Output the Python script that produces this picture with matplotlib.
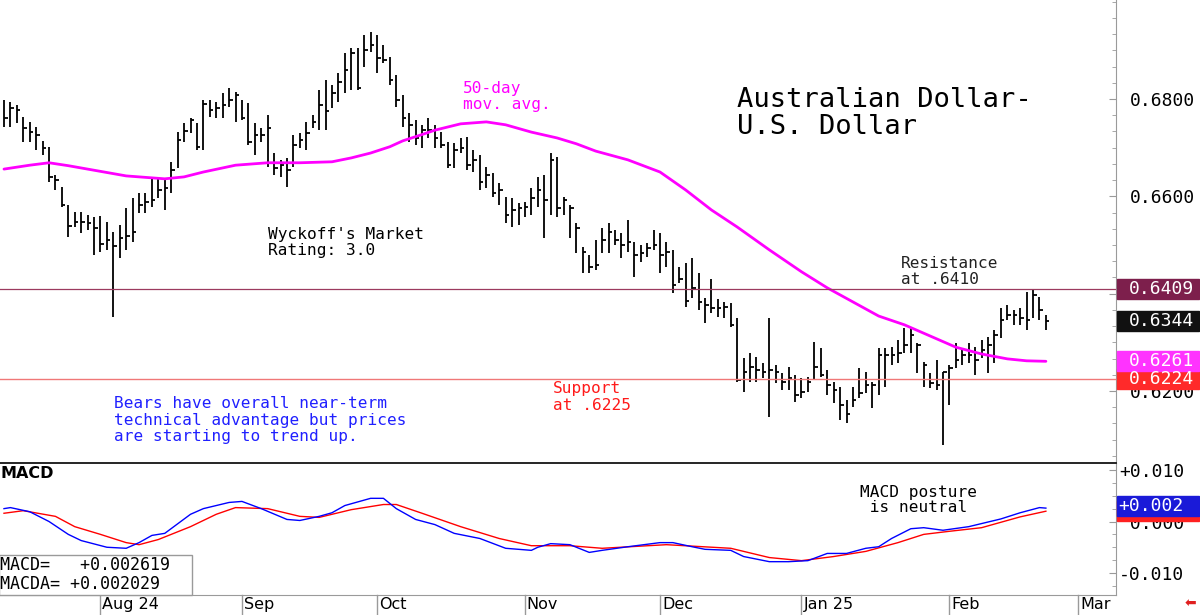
import matplotlib
matplotlib.use("Agg")
import matplotlib.pyplot as plt
import pandas as pd
from matplotlib.patches import Rectangle
from matplotlib.ticker import MultipleLocator
from matplotlib.transforms import blended_transform_factory

plt.rcParams["font.family"] = ["DejaVu Sans Mono", "DejaVu Sans"]

# daily AUD/USD bars, first bar 11 Jul 2024
start_date = "2024-07-11"

highs = [
    0.6798, 0.6794, 0.6788, 0.6763, 0.6753, 0.6743, 0.6714, 0.6701, 0.6644, 0.6619,
    0.6582, 0.6568, 0.6568, 0.6562, 0.6558, 0.6560, 0.6547, 0.6527, 0.6541, 0.6576,
    0.6597, 0.6607, 0.6607, 0.6638, 0.6640, 0.6638, 0.6671, 0.6732, 0.6751, 0.6761,
    0.6751, 0.6798, 0.6798, 0.6794, 0.6812, 0.6823, 0.6814, 0.6798, 0.6792, 0.6751,
    0.6741, 0.6767, 0.6689, 0.6675, 0.6679, 0.6726, 0.6730, 0.6753, 0.6767, 0.6819,
    0.6839, 0.6829, 0.6853, 0.6895, 0.6905, 0.6905, 0.6932, 0.6938, 0.6932, 0.6911,
    0.6886, 0.6849, 0.6808, 0.6771, 0.6757, 0.6747, 0.6761, 0.6747, 0.6732, 0.6712,
    0.6710, 0.6720, 0.6722, 0.6695, 0.6685, 0.6660, 0.6648, 0.6628, 0.6599, 0.6597,
    0.6586, 0.6588, 0.6617, 0.6640, 0.6644, 0.6689, 0.6681, 0.6599, 0.6582, 0.6545,
    0.6496, 0.6479, 0.6510, 0.6535, 0.6545, 0.6531, 0.6525, 0.6551, 0.6506, 0.6500,
    0.6504, 0.6531, 0.6525, 0.6506, 0.6490, 0.6455, 0.6463, 0.6473, 0.6443, 0.6391,
    0.6430, 0.6389, 0.6383, 0.6381, 0.6350, 0.6268, 0.6278, 0.6270, 0.6258, 0.6350,
    0.6253, 0.6237, 0.6249, 0.6233, 0.6227, 0.6229, 0.6301, 0.6288, 0.6243, 0.6219,
    0.6208, 0.6181, 0.6208, 0.6247, 0.6239, 0.6219, 0.6288, 0.6288, 0.6290, 0.6305,
    0.6330, 0.6332, 0.6299, 0.6260, 0.6237, 0.6264, 0.6239, 0.6253, 0.6299, 0.6288,
    0.6299, 0.6290, 0.6305, 0.6311, 0.6325, 0.6371, 0.6377, 0.6366, 0.6371, 0.6403,
    0.6409, 0.6393, 0.6356,
]
lows = [
    0.6743, 0.6743, 0.6751, 0.6712, 0.6712, 0.6695, 0.6685, 0.6630, 0.6613, 0.6578,
    0.6517, 0.6537, 0.6525, 0.6531, 0.6479, 0.6486, 0.6490, 0.6352, 0.6473, 0.6490,
    0.6506, 0.6566, 0.6566, 0.6578, 0.6597, 0.6572, 0.6607, 0.6658, 0.6712, 0.6730,
    0.6695, 0.6695, 0.6763, 0.6761, 0.6761, 0.6784, 0.6753, 0.6757, 0.6706, 0.6685,
    0.6712, 0.6660, 0.6644, 0.6640, 0.6619, 0.6660, 0.6699, 0.6695, 0.6741, 0.6736,
    0.6736, 0.6782, 0.6794, 0.6812, 0.6819, 0.6819, 0.6866, 0.6897, 0.6853, 0.6874,
    0.6829, 0.6784, 0.6743, 0.6712, 0.6706, 0.6699, 0.6720, 0.6699, 0.6699, 0.6658,
    0.6658, 0.6689, 0.6654, 0.6650, 0.6613, 0.6617, 0.6599, 0.6582, 0.6545, 0.6537,
    0.6541, 0.6558, 0.6562, 0.6578, 0.6514, 0.6562, 0.6558, 0.6562, 0.6514, 0.6484,
    0.6443, 0.6443, 0.6449, 0.6484, 0.6484, 0.6500, 0.6473, 0.6486, 0.6434, 0.6465,
    0.6475, 0.6490, 0.6443, 0.6455, 0.6401, 0.6422, 0.6373, 0.6391, 0.6366, 0.6340,
    0.6360, 0.6352, 0.6350, 0.6332, 0.6219, 0.6198, 0.6219, 0.6219, 0.6227, 0.6147,
    0.6217, 0.6202, 0.6202, 0.6177, 0.6186, 0.6198, 0.6223, 0.6229, 0.6192, 0.6175,
    0.6140, 0.6134, 0.6167, 0.6186, 0.6196, 0.6165, 0.6192, 0.6208, 0.6253, 0.6258,
    0.6278, 0.6278, 0.6237, 0.6208, 0.6206, 0.6202, 0.6089, 0.6171, 0.6247, 0.6253,
    0.6258, 0.6233, 0.6268, 0.6237, 0.6258, 0.6309, 0.6346, 0.6336, 0.6336, 0.6325,
    0.6350, 0.6346, 0.6325,
]
closes = [
    0.6761, 0.6782, 0.6777, 0.6741, 0.6732, 0.6726, 0.6699, 0.6640, 0.6634, 0.6582,
    0.6539, 0.6547, 0.6547, 0.6545, 0.6535, 0.6502, 0.6510, 0.6498, 0.6514, 0.6519,
    0.6527, 0.6582, 0.6588, 0.6593, 0.6613, 0.6617, 0.6654, 0.6716, 0.6734, 0.6757,
    0.6701, 0.6790, 0.6777, 0.6782, 0.6788, 0.6798, 0.6808, 0.6761, 0.6712, 0.6726,
    0.6726, 0.6741, 0.6658, 0.6664, 0.6654, 0.6706, 0.6716, 0.6730, 0.6753, 0.6788,
    0.6775, 0.6812, 0.6835, 0.6860, 0.6895, 0.6823, 0.6901, 0.6911, 0.6884, 0.6880,
    0.6839, 0.6798, 0.6761, 0.6747, 0.6720, 0.6736, 0.6736, 0.6720, 0.6706, 0.6664,
    0.6695, 0.6699, 0.6664, 0.6675, 0.6630, 0.6644, 0.6607, 0.6613, 0.6562, 0.6572,
    0.6576, 0.6578, 0.6597, 0.6613, 0.6593, 0.6675, 0.6576, 0.6593, 0.6576, 0.6535,
    0.6486, 0.6455, 0.6459, 0.6510, 0.6527, 0.6510, 0.6500, 0.6506, 0.6479, 0.6484,
    0.6494, 0.6500, 0.6479, 0.6486, 0.6418, 0.6430, 0.6385, 0.6412, 0.6383, 0.6377,
    0.6371, 0.6371, 0.6373, 0.6336, 0.6223, 0.6239, 0.6249, 0.6243, 0.6239, 0.6243,
    0.6239, 0.6219, 0.6227, 0.6192, 0.6198, 0.6219, 0.6249, 0.6233, 0.6212, 0.6202,
    0.6171, 0.6153, 0.6181, 0.6196, 0.6212, 0.6212, 0.6274, 0.6274, 0.6274, 0.6278,
    0.6295, 0.6315, 0.6295, 0.6253, 0.6217, 0.6212, 0.6239, 0.6247, 0.6264, 0.6274,
    0.6274, 0.6264, 0.6284, 0.6295, 0.6315, 0.6346, 0.6356, 0.6356, 0.6350, 0.6346,
    0.6397, 0.6366, 0.6344,
]

# 50-day moving average, read at selected bars
ma_idx = [0, 4, 7, 10, 13, 16, 19, 23, 25, 28, 31, 36, 41, 46, 51, 54, 57, 60, 62, 65, 67,
          71, 75, 78, 82, 86, 89, 92, 97, 102, 106, 110, 114, 119, 124, 128, 132, 136, 140,
          144, 148, 152, 156, 159, 162]
ma_val = [0.6656, 0.6664, 0.6669, 0.6663, 0.6656, 0.6649, 0.6642, 0.6638, 0.6636, 0.6640,
          0.6650, 0.6664, 0.6669, 0.6669, 0.6671, 0.6679, 0.6689, 0.6702, 0.6714, 0.6727, 0.6736,
          0.6749, 0.6753, 0.6747, 0.6732, 0.6720, 0.6708, 0.6693, 0.6675, 0.6650, 0.6613,
          0.6572, 0.6537, 0.6490, 0.6445, 0.6412, 0.6383, 0.6354, 0.6336, 0.6313, 0.6290,
          0.6276, 0.6266, 0.6262, 0.6261]

# MACD (blue) and its average (red)
macd_idx = [0, 1, 4, 7, 10, 12, 16, 19, 21, 23, 25, 29, 31, 35, 37, 40, 44, 46, 49, 51,
            53, 57, 59, 61, 64, 67, 70, 74, 78, 82, 83, 85, 88, 91, 93, 97, 102, 104, 107, 109,
            113, 115, 119, 122, 125, 128, 131, 134, 136, 138, 141, 143, 146, 150, 155, 158, 161, 162]
macd_val = [0.0025, 0.0027, 0.0019, 0.0000, -0.0025, -0.0037, -0.0050, -0.0052, -0.0041, -0.0027,
            -0.0023, 0.0014, 0.0025, 0.0037, 0.0039, 0.0025, 0.0004, 0.0002, 0.0010, 0.0017,
            0.0031, 0.0045, 0.0045, 0.0025, 0.0004, -0.0006, -0.0023, -0.0033, -0.0052, -0.0056,
            -0.0050, -0.0043, -0.0045, -0.0060, -0.0056, -0.0049, -0.0041, -0.0041, -0.0049, -0.0054,
            -0.0056, -0.0068, -0.0078, -0.0078, -0.0076, -0.0062, -0.0062, -0.0052, -0.0049, -0.0033,
            -0.0014, -0.0012, -0.0017, -0.0010, 0.0005, 0.0017, 0.0027, 0.0026]
sig_idx = [0, 3, 8, 11, 15, 19, 21, 24, 29, 33, 36, 41, 46, 49, 54, 59, 61, 65, 71, 77,
           82, 88, 93, 103, 113, 119, 124, 129, 134, 139, 143, 147, 152, 158, 162]
sig_val = [0.0016, 0.0021, 0.0010, -0.0010, -0.0025, -0.0041, -0.0045, -0.0035, -0.0010, 0.0014,
           0.0027, 0.0025, 0.0010, 0.0008, 0.0023, 0.0033, 0.0033, 0.0016, -0.0010, -0.0033,
           -0.0047, -0.0047, -0.0052, -0.0045, -0.0052, -0.0070, -0.0076, -0.0068, -0.0058, -0.0041,
           -0.0025, -0.0019, -0.0012, 0.0009, 0.0020]

resistance = 0.6409
support = 0.6224
last_close = 0.6344
last_ma = 0.6261
macd_last = 0.002619
macda_last = 0.002029
macd_tag = "+0.002"

W, H = 1200, 615
fig = plt.figure(figsize=(W / 100, H / 100), dpi=100)
ax = fig.add_axes([0, 1 - 463 / H, 1116 / W, 463 / H])
mx = fig.add_axes([0, 1 - 595 / H, 1116 / W, 132 / H])

x = list(range(len(closes)))
ax.vlines(x, lows, highs, color="black", lw=1.3)
ax.hlines(closes, [i for i in x], [i + 0.55 for i in x], color="black", lw=1.3)
ax.plot(ma_idx, ma_val, color="#ff00ff", lw=2.0, solid_capstyle="round", solid_joinstyle="round")
ax.axhline(resistance, color="#9c3a5f", lw=0.9)
ax.axhline(support, color="#f07878", lw=1.0)

xlim = (-0.62, 172.9)
ax.set_xlim(*xlim)
ax.set_ylim(0.6052, 0.70035)

mx.plot(sig_idx, sig_val, color="#ff0000", lw=1.0)
mx.plot(macd_idx, macd_val, color="#0000ff", lw=1.0)
mx.set_xlim(*xlim)
mx.set_ylim(-0.01427, 0.01136)

grey = "#9a9a9a"
for a in (ax, mx):
    a.set_xticks([])
    for s in ("left", "top", "bottom"):
        a.spines[s].set_visible(False)
    a.spines["right"].set_color(grey)
    a.yaxis.tick_right()
    a.tick_params(axis="y", which="both", direction="in", colors=grey,
                  labelcolor="black", labelsize=13, pad=10)
    a.tick_params(axis="y", which="major", length=5)
    a.tick_params(axis="y", which="minor", length=3)

price_ticks = [0.62, 0.64, 0.66, 0.68]
ax.set_yticks(price_ticks)
# 0.6400 sits under the resistance tag, so it carries no label
ax.set_yticklabels(["0.6200", "", "0.6600", "0.6800"])
ax.yaxis.set_minor_locator(MultipleLocator(0.02 / 6))

mx.set_yticks([-0.01, 0.0, 0.01])
mx.set_yticklabels(["-0.010", " 0.000", "+0.010"])
mx.yaxis.set_minor_locator(MultipleLocator(0.0025))
mx.tick_params(axis="y", which="both", pad=2)
mx.spines["top"].set_visible(True)
mx.spines["top"].set_color("black")
mx.spines["top"].set_linewidth(1.2)
mx.spines["bottom"].set_visible(True)
mx.spines["bottom"].set_color(grey)

# month labels under the MACD panel
dates = pd.bdate_range(start_date, "2025-03-31")
month_names = {8: "Aug 24", 9: "Sep", 10: "Oct", 11: "Nov", 12: "Dec", 1: "Jan 25", 2: "Feb", 3: "Mar"}
trans = blended_transform_factory(mx.transData, mx.transAxes)
seen = set()
for i, d in enumerate(dates):
    key = (d.year, d.month)
    if key in seen:
        continue
    seen.add(key)
    if d.month not in month_names or i == 0:
        continue
    mx.plot([i, i], [-0.16, 0], color=grey, lw=1, transform=trans, clip_on=False)
    mx.text(i + 0.3, -0.075, month_names[d.month], transform=trans, ha="left",
            va="center", fontsize=11.5, family="DejaVu Sans")


def px(xp, yp):
    return xp / W, 1 - yp / H


def lines(xp, yp, texts, color="black", size=11.6, step=16):
    for k, t in enumerate(texts):
        fig.text(*px(xp, yp + k * step), t, color=color, fontsize=size, ha="left", va="center")


def tag(a, value, text, color, xt=1162, ha="center"):
    ypix = a.transData.transform((0, value))[1]
    fig.add_artist(Rectangle((1117 / W, (ypix - 10) / H), 82 / W, 20 / H,
                             transform=fig.transFigure, color=color, zorder=5))
    fig.text(xt / W, ypix / H, text, color="white", fontsize=13, ha=ha, va="center", zorder=6)


tag(ax, resistance, f"{resistance:.4f}", "#7d1f4c")
tag(ax, last_close, f"{last_close:.4f}", "#111111")
tag(ax, support, f"{support:.4f}", "#ff2a2a")
tag(ax, last_ma, f"{last_ma:.4f}", "#ff33ff")
tag(mx, macda_last, "", "#ff2020")
tag(mx, macd_last + 0.0004, macd_tag, "#1a1ad8", xt=1118, ha="left")

lines(737, 100, ["Australian Dollar-", "U.S. Dollar"], size=19.5, step=27)
lines(463, 88, ["50-day", "mov. avg."], color="#ff00ff")
lines(268, 234, ["Wyckoff's Market", "Rating: 3.0"])
lines(901, 263, ["Resistance", "at .6410"], color="#222222")
lines(553, 389, ["Support", "at .6225"], color="#ff1a1a")
lines(114, 404, ["Bears have overall near-term", "technical advantage but prices",
                 "are starting to trend up."], color="#2020ff")
lines(860, 492, ["MACD posture", " is neutral"])
fig.text(*px(0, 474), "MACD", fontsize=11.5, fontweight="bold", family="DejaVu Sans",
         ha="left", va="center")

fig.add_artist(Rectangle((-1 / W, 1 - 595 / H), 193 / W, 40 / H, transform=fig.transFigure,
                         facecolor="white", edgecolor=grey, lw=1, zorder=4))
fig.text(*px(0, 565), f"MACD=   {macd_last:+.6f}", fontsize=12, ha="left", va="center", zorder=5)
fig.text(*px(0, 584), f"MACDA= {macda_last:+.6f}", fontsize=12, ha="left", va="center", zorder=5)

fig.text(*px(1190, 603), "\u2b05", color="#e02020", fontsize=10, family="DejaVu Sans",
         ha="center", va="center")

fig.savefig("out.png", dpi=100)
